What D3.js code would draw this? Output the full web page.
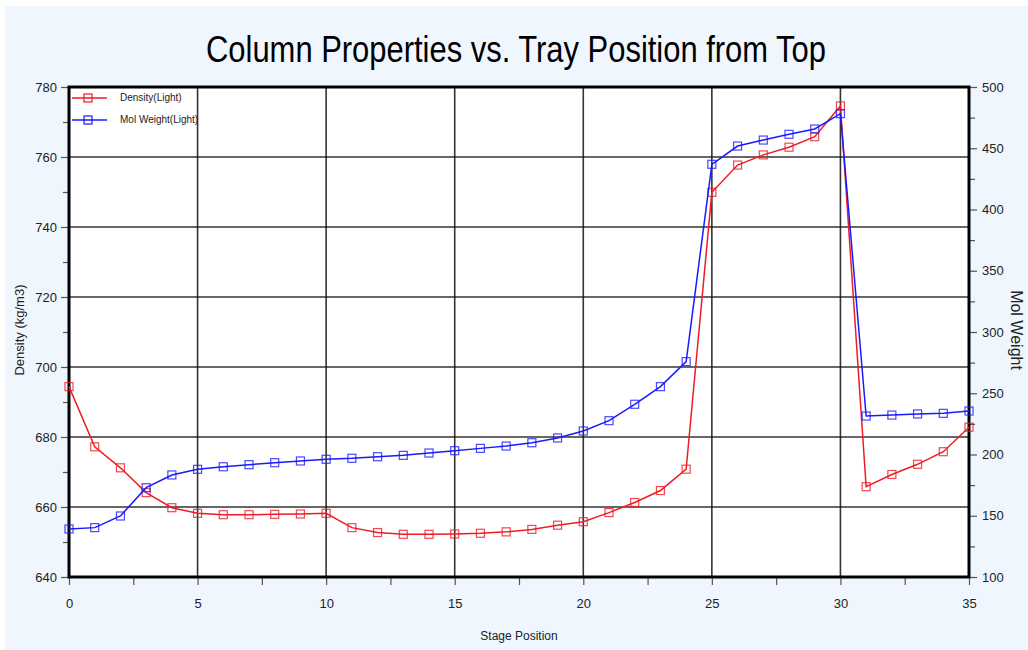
<!DOCTYPE html>
<html>
<head>
<meta charset="utf-8">
<script src="https://cdn.jsdelivr.net/npm/d3@7"></script>
<style>
  body { margin: 0; background: #fff; }
  text { font-family: "Liberation Sans Narrow", "Liberation Sans", Arial, sans-serif; }
</style>
</head>
<body>
<script>
const stages = d3.range(0, 36);
const density = [694.4, 677.2, 671.2, 664.1, 659.8, 658.2, 657.8, 657.8, 657.9, 658.0,
  658.2, 654.1, 652.7, 652.2, 652.2, 652.3, 652.5, 652.9, 653.6, 654.8,
  655.8, 658.4, 661.3, 664.7, 670.8, 749.9, 757.7, 760.6, 762.8, 765.8,
  774.6, 665.8, 669.3, 672.2, 675.8, 682.8];
const molWeight = [139.2, 140.3, 149.8, 172.9, 183.3, 187.9, 190.0, 191.7, 193.3, 194.7,
  196.1, 196.9, 198.2, 199.3, 201.2, 203.1, 205.0, 206.9, 209.6, 213.5,
  219.2, 227.6, 241.0, 255.4, 275.8, 436.9, 451.8, 456.7, 461.4, 465.7,
  478.2, 231.4, 232.2, 233.1, 233.6, 235.5];
const xTicks = [0, 5, 10, 15, 20, 25, 30, 35];
const leftTicks = [640, 660, 680, 700, 720, 740, 760, 780];
const rightTicks = [100, 150, 200, 250, 300, 350, 400, 450, 500];
const seriesNames = ["Density(Light)", "Mol Weight(Light)"];

const W = 1028, H = 650;
const m = { left: 69, right: 969, top: 87, bottom: 577 };

const svg = d3.select('body').append('svg')
  .attr('width', W).attr('height', H);

svg.append('rect').attr('x', 5).attr('y', 6).attr('width', W - 5).attr('height', H - 6)
  .attr('fill', '#eff6fe');

const x = d3.scaleLinear().domain([0, 35]).range([m.left, m.right]);
const yL = d3.scaleLinear().domain([640, 780]).range([m.bottom, m.top]);
const yR = d3.scaleLinear().domain([100, 500]).range([m.bottom, m.top]);

svg.append('rect').attr('x', m.left).attr('y', m.top)
  .attr('width', m.right - m.left).attr('height', m.bottom - m.top)
  .attr('fill', '#fff');

// title
svg.append('text').attr('x', 516).attr('y', 62).attr('text-anchor', 'middle')
  .style('font-size', '36px').attr('fill', '#000')
  .attr('textLength', 620).attr('lengthAdjust', 'spacingAndGlyphs')
  .text('Column Properties vs. Tray Position from Top');

// grid
const grid = svg.append('g');
grid.selectAll('.gx').data(xTicks.slice(1, -1)).enter().append('line')
  .attr('x1', d => x(d)).attr('x2', d => x(d)).attr('y1', m.top).attr('y2', m.bottom)
  .attr('stroke', '#111').attr('stroke-width', 1.6).attr('stroke-opacity', 0.85);
grid.selectAll('.gy').data(leftTicks.slice(1, -1)).enter().append('line')
  .attr('y1', d => yL(d)).attr('y2', d => yL(d)).attr('x1', m.left).attr('x2', m.right)
  .attr('stroke', '#111').attr('stroke-width', 1.6).attr('stroke-opacity', 0.85);

// axes
function styleAxis(g) {
  g.select('.domain').remove();
  g.selectAll('.tick line').attr('stroke', '#555').attr('stroke-width', 1.2);
  g.selectAll('.tick text').style('font-size', '13px').attr('fill', '#222');
}
const minorX = d3.range(2.5, 35, 5);
const minorL = d3.range(650, 780, 20);
const minorR = d3.range(125, 500, 50);

svg.append('g').attr('transform', `translate(0,${m.bottom})`)
  .call(d3.axisBottom(x).tickValues(xTicks).tickSize(8).tickPadding(14))
  .call(styleAxis);
svg.append('g').attr('transform', `translate(0,${m.bottom})`)
  .call(d3.axisBottom(x).tickValues(minorX).tickSize(8).tickFormat(''))
  .call(styleAxis);
svg.append('g').attr('transform', `translate(${m.left},0)`)
  .call(d3.axisLeft(yL).tickValues(leftTicks).tickSize(8).tickPadding(4))
  .call(styleAxis);
svg.append('g').attr('transform', `translate(${m.left},0)`)
  .call(d3.axisLeft(yL).tickValues(minorL).tickSize(6).tickFormat(''))
  .call(styleAxis);
svg.append('g').attr('transform', `translate(${m.right},0)`)
  .call(d3.axisRight(yR).tickValues(rightTicks).tickSize(8).tickPadding(5))
  .call(styleAxis);
svg.append('g').attr('transform', `translate(${m.right},0)`)
  .call(d3.axisRight(yR).tickValues(minorR).tickSize(6).tickFormat(''))
  .call(styleAxis);

// frame
svg.append('rect').attr('x', m.left).attr('y', m.top)
  .attr('width', m.right - m.left).attr('height', m.bottom - m.top)
  .attr('fill', 'none').attr('stroke', '#000').attr('stroke-width', 3);

// axis titles
svg.append('text').attr('transform', 'translate(24,330) rotate(-90)')
  .attr('text-anchor', 'middle').style('font-size', '13px').attr('fill', '#222')
  .text('Density (kg/m3)');
svg.append('text').attr('transform', 'translate(1011,330) rotate(90)')
  .attr('text-anchor', 'middle').style('font-size', '16px').attr('fill', '#222')
  .text('Mol Weight');
svg.append('text').attr('x', 519).attr('y', 640).attr('text-anchor', 'middle')
  .style('font-size', '12px').attr('fill', '#222')
  .text('Stage Position');

// series
const series = [
  { name: seriesNames[0], values: density, y: yL, color: '#ee1c24' },
  { name: seriesNames[1], values: molWeight, y: yR, color: '#1a1aff' }
];
series.forEach(s => {
  const g = svg.append('g');
  const line = d3.line().x((d, i) => x(stages[i])).y(d => s.y(d));
  g.append('path').datum(s.values).attr('d', line)
    .attr('fill', 'none').attr('stroke', s.color).attr('stroke-width', 1.5);
  g.selectAll('rect').data(s.values).enter().append('rect')
    .attr('x', (d, i) => x(stages[i]) - 4).attr('y', d => s.y(d) - 4)
    .attr('width', 8).attr('height', 8)
    .attr('fill', 'none').attr('stroke', s.color).attr('stroke-width', 1.2)
    .attr('stroke-opacity', 0.8);
});

// legend
const leg = svg.append('g');
series.forEach((s, i) => {
  const ly = 98 + i * 22;
  leg.append('line').attr('x1', 72).attr('x2', 107).attr('y1', ly).attr('y2', ly)
    .attr('stroke', s.color).attr('stroke-width', 1.3);
  leg.append('rect').attr('x', 84).attr('y', ly - 4).attr('width', 8).attr('height', 8)
    .attr('fill', 'none').attr('stroke', s.color).attr('stroke-width', 1.2);
  leg.append('text').attr('x', 120).attr('y', ly + 3).style('font-size', '10px')
    .attr('fill', '#222').text(s.name);
});
</script>
</body>
</html>
